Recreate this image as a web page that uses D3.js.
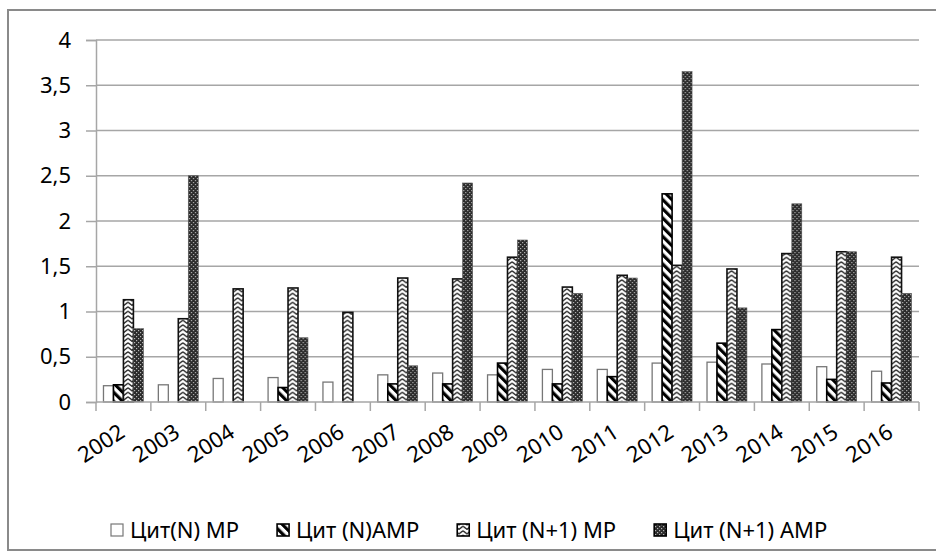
<!DOCTYPE html>
<html>
<head>
<meta charset="utf-8">
<script src="https://cdn.jsdelivr.net/npm/d3@7"></script>
<style>
  html, body { margin: 0; padding: 0; background: #fff; }
  svg text { font-family: "Noto Sans", "Open Sans", sans-serif; fill: #000; }
</style>
</head>
<body>
<svg id="chart" width="936" height="560"></svg>
<script>
// Years on the category axis
const years = ["2002","2003","2004","2005","2006","2007","2008","2009","2010","2011","2012","2013","2014","2015","2016"];

// Series names (legend order)
const seriesNames = ["Цит(N) MP", "Цит (N)AMP", "Цит (N+1) MP", "Цит (N+1) AMP"];

// Series values by year
const citNMP    = [0.18, 0.19, 0.26, 0.27, 0.22, 0.30, 0.32, 0.30, 0.36, 0.36, 0.43, 0.44, 0.42, 0.39, 0.34];
const citNAMP   = [0.19, 0,    0,    0.16, 0,    0.20, 0.20, 0.43, 0.20, 0.28, 2.30, 0.65, 0.80, 0.25, 0.21];
const citN1MP   = [1.13, 0.92, 1.25, 1.26, 0.99, 1.37, 1.36, 1.60, 1.27, 1.40, 1.51, 1.47, 1.64, 1.66, 1.60];
const citN1AMP  = [0.81, 2.50, 0,    0.71, 0,    0.40, 2.42, 1.79, 1.20, 1.37, 3.65, 1.04, 2.19, 1.66, 1.20];

// Value axis ticks and their labels
const yTicks = [0, 0.5, 1, 1.5, 2, 2.5, 3, 3.5, 4];
const yTickLabels = ["0", "0,5", "1", "1,5", "2", "2,5", "3", "3,5", "4"];

const seriesValues = [citNMP, citNAMP, citN1MP, citN1AMP];

const svg = d3.select("#chart");
const W = 936, H = 560;
const plot = { left: 96, right: 919, top: 40, bottom: 402 };
const FONT = "22px";

// ---- fill patterns ----
const defs = svg.append("defs");

// diagonal stripes
const pStripe = defs.append("pattern")
  .attr("id", "pat-stripe").attr("patternUnits", "userSpaceOnUse")
  .attr("width", 6.5).attr("height", 6.5)
  .attr("patternTransform", "rotate(-45)");
pStripe.append("rect").attr("width", 6.5).attr("height", 6.5).attr("fill", "#fff");
pStripe.append("rect").attr("width", 3.2).attr("height", 6.5).attr("fill", "#000");

// zigzag chevrons
const pZig = defs.append("pattern")
  .attr("id", "pat-zig").attr("patternUnits", "userSpaceOnUse")
  .attr("width", 8).attr("height", 4.5);
pZig.append("rect").attr("width", 8).attr("height", 4.5).attr("fill", "#fff");
pZig.append("path").attr("d", "M0,0.8 L4,3.8 L8,0.8")
  .attr("fill", "none").attr("stroke", "#111").attr("stroke-width", 1.3);

// dense dark dotted grid
const pDot = defs.append("pattern")
  .attr("id", "pat-dot").attr("patternUnits", "userSpaceOnUse")
  .attr("width", 4).attr("height", 4);
pDot.append("rect").attr("width", 4).attr("height", 4).attr("fill", "#2a2a2a");
pDot.append("rect").attr("x", 0).attr("y", 0).attr("width", 1.2).attr("height", 1.2).attr("fill", "#b5b5b5");
pDot.append("rect").attr("x", 2).attr("y", 2).attr("width", 1.2).attr("height", 1.2).attr("fill", "#b5b5b5");

const seriesStyle = [
  { fill: "#fff", stroke: "#777", sw: 1.3 },
  { fill: "url(#pat-stripe)", stroke: "#000", sw: 1.6 },
  { fill: "url(#pat-zig)", stroke: "#111", sw: 1.6 },
  { fill: "url(#pat-dot)", stroke: "#555", sw: 0.6 }
];

// ---- outer frame ----
svg.append("rect")
  .attr("x", 8).attr("y", 10).attr("width", W + 10).attr("height", 540)
  .attr("fill", "#fff").attr("stroke", "#8a8a8a").attr("stroke-width", 2);

// ---- scales ----
const y = d3.scaleLinear().domain([0, 4]).range([plot.bottom, plot.top]);
const x0 = d3.scaleBand().domain(years).range([plot.left, plot.right]).padding(0);
const bw = x0.bandwidth();
const x1 = d3.scaleBand().domain(d3.range(seriesNames.length))
  .range([bw * 0.75 / 5.5, bw * 4.75 / 5.5]).padding(0);

// ---- gridlines ----
svg.append("g").selectAll("line").data(yTicks.filter(t => t > 0)).join("line")
  .attr("x1", plot.left).attr("x2", plot.right)
  .attr("y1", d => y(d)).attr("y2", d => y(d))
  .attr("stroke", "#a6a6a6").attr("stroke-width", 1.5);

// ---- value axis ----
const yAxis = svg.append("g").attr("transform", `translate(${plot.left},0)`)
  .call(d3.axisLeft(y).tickValues(yTicks).tickSize(10).tickPadding(15)
    .tickFormat((d, i) => yTickLabels[i]));
yAxis.select(".domain").attr("stroke", "#a6a6a6").attr("stroke-width", 1.5);
yAxis.selectAll(".tick line").attr("stroke", "#a6a6a6").attr("stroke-width", 1.5);
yAxis.selectAll(".tick text")
  .style("font-family", "'Noto Sans', 'Open Sans', sans-serif")
  .style("font-size", FONT).attr("fill", "#000");

// ---- bars ----
const groups = svg.append("g").selectAll("g").data(years).join("g")
  .attr("transform", d => `translate(${x0(d)},0)`);

groups.selectAll("rect")
  .data((d, yi) => seriesValues.map((vals, si) => ({ si, v: vals[yi] })).filter(e => e.v > 0))
  .join("rect")
  .attr("x", d => x1(d.si))
  .attr("width", x1.bandwidth())
  .attr("y", d => y(d.v))
  .attr("height", d => y(0) - y(d.v))
  .attr("fill", d => seriesStyle[d.si].fill)
  .attr("stroke", d => seriesStyle[d.si].stroke)
  .attr("stroke-width", d => seriesStyle[d.si].sw);

// ---- category axis ----
const boundaries = d3.range(years.length + 1).map(i => plot.left + i * bw);
svg.append("line")
  .attr("x1", plot.left).attr("x2", plot.right)
  .attr("y1", plot.bottom).attr("y2", plot.bottom)
  .attr("stroke", "#a6a6a6").attr("stroke-width", 1.5);
svg.append("g").selectAll("line").data(boundaries).join("line")
  .attr("x1", d => d).attr("x2", d => d)
  .attr("y1", plot.bottom).attr("y2", plot.bottom + 9)
  .attr("stroke", "#a6a6a6").attr("stroke-width", 1.5);

svg.append("g").selectAll("text").data(years).join("text")
  .attr("text-anchor", "end")
  .attr("transform", d => `translate(${x0(d) + bw / 2 + 3},${plot.bottom + 34}) rotate(-33)`)
  .style("font-size", FONT)
  .text(d => d);

// ---- legend ----
const legend = svg.append("g").attr("transform", "translate(111,530)");
let lx = 0;
seriesNames.forEach((name, i) => {
  const st = seriesStyle[i];
  legend.append("rect")
    .attr("x", lx).attr("y", -6).attr("width", 12).attr("height", 12)
    .attr("fill", st.fill).attr("stroke", i === 0 ? "#777" : "#000")
    .attr("stroke-width", i === 0 ? 1.2 : 1.6);
  const t = legend.append("text")
    .attr("x", lx + 19).attr("y", 0).attr("dy", "0.35em")
    .style("font-size", FONT).text(name);
  lx += 19 + t.node().getComputedTextLength() + 38;
});
</script>
</body>
</html>
